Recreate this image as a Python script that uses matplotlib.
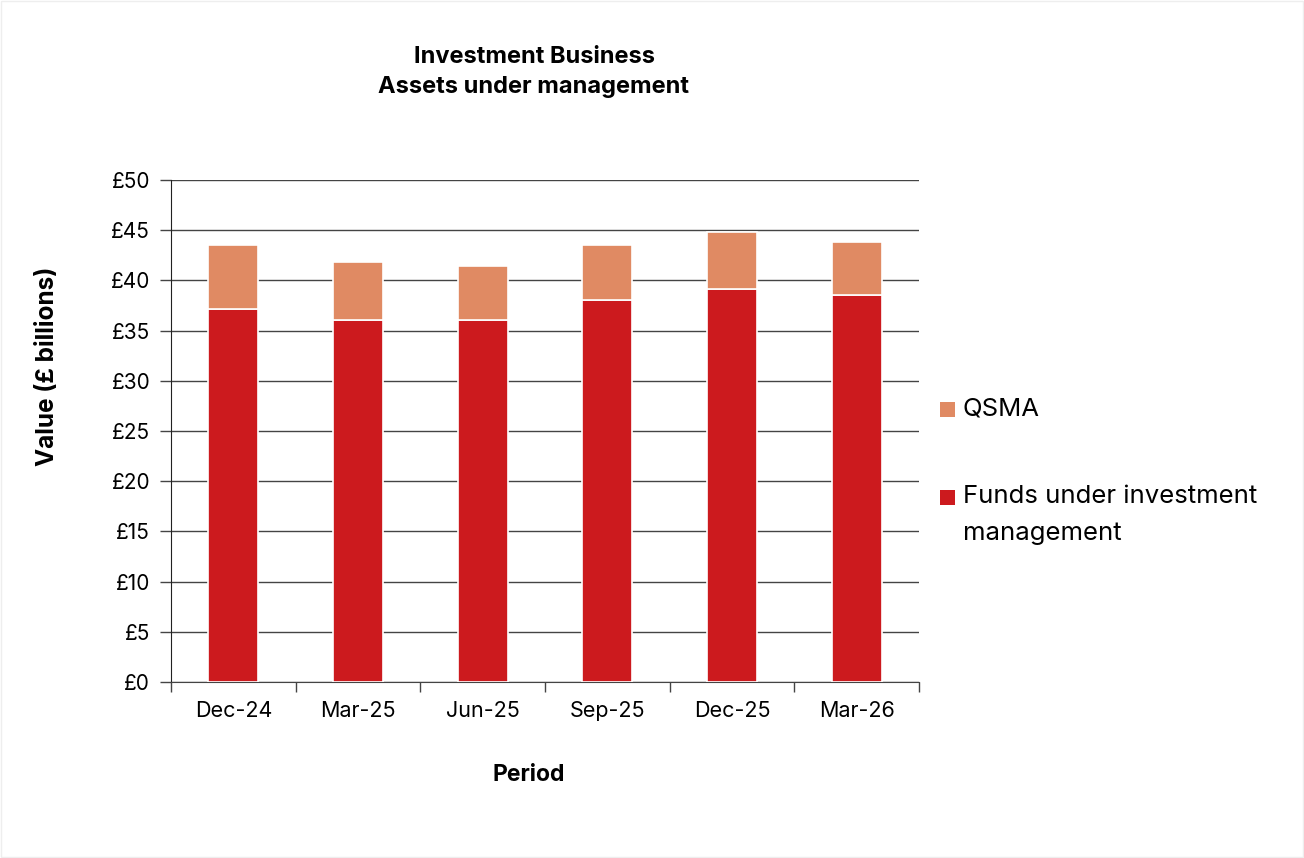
import matplotlib
matplotlib.use("Agg")
import matplotlib.pyplot as plt
import numpy as np
from matplotlib.patches import Rectangle

plt.rcParams['font.family'] = ['Inter', 'DejaVu Sans']

periods = ["Dec-24", "Mar-25", "Jun-25", "Sep-25", "Dec-25", "Mar-26"]
funds = [37.2, 36.05, 36.1, 38.0, 39.1, 38.5]
qsma = [6.35, 5.75, 5.3, 5.5, 5.75, 5.3]
yticks = [0, 5, 10, 15, 20, 25, 30, 35, 40, 45, 50]
ytick_labels = ["£0", "£5", "£10", "£15", "£20", "£25", "£30", "£35", "£40", "£45", "£50"]
series_names = ["QSMA", "Funds under investment\nmanagement"]

W, H = 1304, 858
fig = plt.figure(figsize=(W/100, H/100), dpi=100)
ax = fig.add_axes([171/W, 1-682/H, (919-171)/W, (682-180)/H])

x = np.arange(len(periods))
red = "#CC1A1E"
orange = "#E08A63"
ax.bar(x, funds, width=0.4, color=red, edgecolor="white", linewidth=1.2, zorder=3)
ax.bar(x, qsma, bottom=funds, width=0.4, color=orange, edgecolor="white", linewidth=1.2, zorder=3)

ax.set_xlim(-0.5, len(periods) - 0.5)
ax.set_ylim(0, 50)
ax.set_yticks(yticks)
ax.set_yticklabels(ytick_labels, fontsize=15)
ax.yaxis.grid(True, color="#444444", linewidth=1.0, zorder=0)
ax.set_axisbelow(True)
ax.set_xticks(x)
ax.set_xticklabels(periods, fontsize=15.5)
ax.set_xticks(np.arange(-0.5, len(periods)), minor=True)
ax.tick_params(axis="x", which="major", length=0, pad=14)
ax.tick_params(axis="x", which="minor", length=7, width=1, color="#444444", direction="out")
ax.tick_params(axis="y", length=8, width=1, color="#444444", pad=7)
for s in ["top", "right"]:
    ax.spines[s].set_visible(False)
ax.spines["left"].set_color("#222222")
ax.spines["bottom"].set_color("#444444")

fig.text(529/W, 1-775/H, "Period", ha="center", va="center", fontsize=16.5, fontweight="bold")
fig.text(48/W, 1-366/H, "Value (£ billions)", ha="center", va="center", rotation=90,
         fontsize=17.5, fontweight="bold")

fig.text(534/W, 1-57/H, "Investment Business", ha="center", va="center",
         fontsize=17, fontweight="bold")
fig.text(534/W, 1-87/H, "Assets under management", ha="center", va="center",
         fontsize=17, fontweight="bold")

# legend
leg_colors = [orange, red]
leg_y = [410, 497]
for name, c, yy in zip(series_names, leg_colors, leg_y):
    fig.patches.append(Rectangle((940/W, 1-(yy+7.5)/H), 15/W, 15/H, transform=fig.transFigure,
                                 facecolor=c, edgecolor="none"))
    fig.text(963/W, 1-(yy-12)/H, name, ha="left", va="top", fontsize=18.5, linespacing=1.78)

fig.patches.append(Rectangle((0.001, 0.001), 0.998, 0.998, transform=fig.transFigure,
                             fill=False, edgecolor="#EEEEEE", linewidth=1))

fig.savefig("out.png", dpi=100, facecolor="white")
